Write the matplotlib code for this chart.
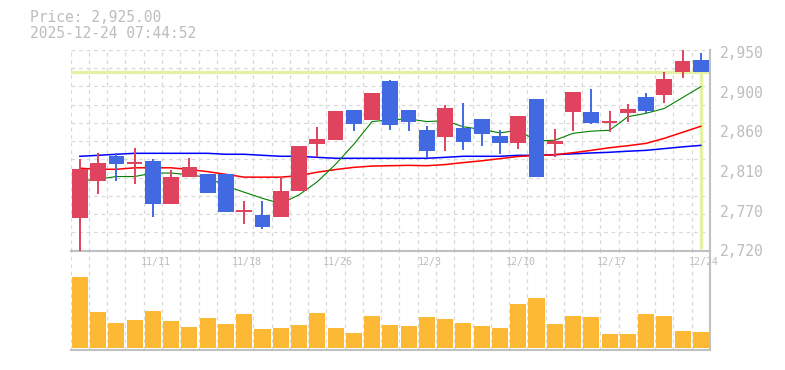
import numpy as np
import matplotlib
matplotlib.use("Agg")
import matplotlib.pyplot as plt
from matplotlib.transforms import blended_transform_factory, ScaledTranslation

# ---------------- data ----------------
dates = ["11/5", "11/6", "11/7", "11/10", "11/11", "11/12", "11/13", "11/14", "11/17",
         "11/18", "11/19", "11/20", "11/21", "11/25", "11/26", "11/27", "11/28", "12/1",
         "12/2", "12/3", "12/4", "12/5", "12/8", "12/9", "12/10", "12/11", "12/12",
         "12/15", "12/16", "12/17", "12/18", "12/19", "12/22", "12/23", "12/24"]
shown_dates = ["11/11", "11/18", "11/26", "12/3", "12/10", "12/17", "12/24"]

opens = [2758, 2800, 2829, 2819.4, 2823, 2773.5, 2804, 2808, 2808, 2764, 2761, 2759,
         2788, 2842.6, 2847, 2881, 2870, 2914.5, 2881, 2858, 2850, 2860.6, 2871, 2851.4,
         2843.8, 2894, 2842.6, 2879.3, 2879.3, 2866.7, 2878, 2896, 2898.4, 2924.8, 2938.5]
highs = [2825, 2832, 2832, 2838, 2825, 2812.5, 2826, 2808, 2808, 2777, 2777, 2804,
         2840, 2862, 2880, 2881, 2900.7, 2916, 2881, 2863, 2887, 2889, 2871, 2858,
         2874.4, 2894, 2859, 2902, 2905.3, 2880.4, 2888.5, 2901, 2924.4, 2952, 2947]
lows = [2716, 2785, 2800, 2796, 2759, 2773.5, 2804, 2786, 2764, 2751, 2745, 2759,
        2788, 2827, 2847, 2857.5, 2870, 2858, 2857, 2826, 2834.6, 2835.8, 2840, 2831,
        2836.5, 2805, 2827.7, 2857.5, 2865.5, 2856.4, 2867.5, 2877.5, 2889, 2918, 2925]
closes = [2814, 2820.5, 2819.4, 2822, 2773.5, 2805, 2816, 2786, 2764, 2767, 2747.5, 2788,
          2840, 2848, 2880, 2865.5, 2900.7, 2864, 2868, 2834.6, 2883.5, 2844.6, 2854, 2843.8,
          2874.4, 2805, 2846, 2902, 2866.7, 2869, 2882.4, 2880.5, 2916.8, 2937.4, 2925]
volumes = [21200, 10700, 7400, 8300, 11000, 8000, 6200, 8900, 7100, 10100, 5600, 5900,
           6800, 10400, 5900, 4400, 9500, 6800, 6500, 9200, 8600, 7400, 6500, 5900,
           13100, 14900, 7100, 9500, 9200, 4100, 4100, 10100, 9500, 5000, 4700]

ma_short = [2800, 2802, 2805, 2805, 2809, 2809, 2807, 2804, 2794, 2787, 2780, 2774,
            2784, 2799, 2819, 2842, 2868, 2870, 2871, 2868, 2869, 2862, 2859, 2855,
            2858, 2846, 2846.5, 2854.5, 2857, 2858, 2873.5, 2877.5, 2883, 2895.5, 2908]
ma_mid = [2814.5, 2813.3, 2813.3, 2815, 2815, 2815, 2813, 2810.6, 2807.5, 2804.3, 2804.3,
          2804.3, 2806, 2810, 2813, 2815.5, 2817, 2817.4, 2817.8, 2817.4, 2818.7, 2821,
          2823, 2825.5, 2828, 2829, 2830, 2832.3, 2835, 2838, 2840.3, 2843, 2848.8,
          2855.7, 2862.6]
ma_long = [2828.2, 2829.3, 2830.5, 2831.6, 2831.6, 2831.6, 2831.6, 2831.6, 2830.5, 2830.5,
           2829.3, 2828.2, 2828.2, 2827.0, 2825.9, 2825.9, 2825.9, 2825.9, 2825.9, 2825.9,
           2827.0, 2828.2, 2828.2, 2828.2, 2829.3, 2829.3, 2830.0, 2831.0, 2832.0, 2832.8,
           2834.0, 2835.0, 2837.0, 2839.0, 2840.7]

price_labels = ["2,950", "2,900", "2,860", "2,810", "2,770", "2,720"]
current_price = 2925.00
header_price = "Price: 2,925.00"
header_time = "2025-12-24 07:44:52"

# ---------------- style ----------------
UP = "#e0435e"
DOWN = "#4169e1"
VOLC = "#fdb933"
GRID = "#d9d9d9"
SPINE = "#c0c0c0"
TXT = "#bdbdbd"
CUR = "#e4f2a6"
MONO = "DejaVu Sans Mono"

n = len(dates)
x = np.arange(n) + 0.5

W, H = 785, 370
fig = plt.figure(figsize=(W / 100, H / 100), dpi=100)

L, R = 70.7, 710.0
PT, PB = 50.0, 250.7
VB = 350.3

# volume axes (added first, sits under price axes labels)
axv = fig.add_axes([L / W, 1 - VB / H, (R - L) / W, (VB - PB) / H])
axv.set_facecolor("none")
axv.bar(x, volumes, width=0.88, color=VOLC, zorder=2)
axv.set_xlim(0, n)
axv.set_ylim(-780, 29100)
axv.set_xticks(np.arange(0, n + 1))
axv.set_yticks([])
axv.tick_params(axis="x", length=0, labelbottom=False)
axv.grid(axis="x", color=GRID, linestyle=(0, (3, 3)), linewidth=0.9, zorder=0)
for s in ["top", "left"]:
    axv.spines[s].set_visible(False)
for s in ["bottom", "right"]:
    axv.spines[s].set_color(SPINE)
    axv.spines[s].set_linewidth(1.5)

# price axes
ax = fig.add_axes([L / W, 1 - PB / H, (R - L) / W, (PB - PT) / H])
ax.set_facecolor("none")
ymin, ymax = 2720, 2950
ax.set_xlim(0, n)
ax.set_ylim(ymin, ymax)
ax.set_xticks(np.arange(0, n + 1))
ax.set_yticks(np.linspace(ymin, ymax, 12))
ax.tick_params(length=0, labelbottom=False, labelleft=False)
ax.grid(True, color=GRID, linestyle=(0, (3, 3)), linewidth=0.9, zorder=0)
ax.set_axisbelow(True)
for s in ["top", "left"]:
    ax.spines[s].set_visible(False)
for s in ["bottom", "right"]:
    ax.spines[s].set_color(SPINE)
    ax.spines[s].set_linewidth(1.5)

# current price marker lines
ax.axhline(current_price, color=CUR, linewidth=2.4, zorder=1)
ax.vlines(x[-1], ymin + 2, current_price, color=CUR, linewidth=2.4, zorder=1)

# moving averages
ax.plot(x, ma_long, color="blue", linewidth=1.1, zorder=2)
ax.plot(x, ma_mid, color="red", linewidth=1.1, zorder=2)
ax.plot(x, ma_short, color="green", linewidth=0.8, zorder=2)

# candles
o = np.array(opens); c = np.array(closes)
colors = [UP if cc >= oo else DOWN for oo, cc in zip(o, c)]
ax.vlines(x, lows, highs, colors=colors, linewidth=1.4, zorder=3)
body_bottom = np.minimum(o, c)
body_h = np.maximum(np.abs(c - o), 1.6)
ax.bar(x, body_h, bottom=body_bottom, width=0.86, color=colors, zorder=4)

# price labels on the right
for yf, lab in zip(np.linspace(1 - 3.3 / (PB - PT), 1 - 202.0 / (PB - PT), len(price_labels)),
                   price_labels):
    ax.text(1.0, yf, lab, transform=ax.transAxes + ScaledTranslation(10 / 100, 0, fig.dpi_scale_trans),
            ha="left", va="center", fontsize=10.5, family=MONO, color=TXT)

# date labels
tr = blended_transform_factory(ax.transData, ax.transAxes) + ScaledTranslation(2.5 / 100, 0, fig.dpi_scale_trans)
for lab in shown_dates:
    i = dates.index(lab)
    ax.text(x[i], -11.5 / (PB - PT), lab, transform=tr, ha="center", va="center",
            fontsize=7.2, family=MONO, color=TXT)

# header
fig.text(30 / W, 1 - 18 / H, header_price, ha="left", va="center", fontsize=10.5,
         family=MONO, color=TXT)
fig.text(30 / W, 1 - 33.5 / H, header_time, ha="left", va="center", fontsize=10.5,
         family=MONO, color=TXT)

fig.savefig("out.png", dpi=100)
